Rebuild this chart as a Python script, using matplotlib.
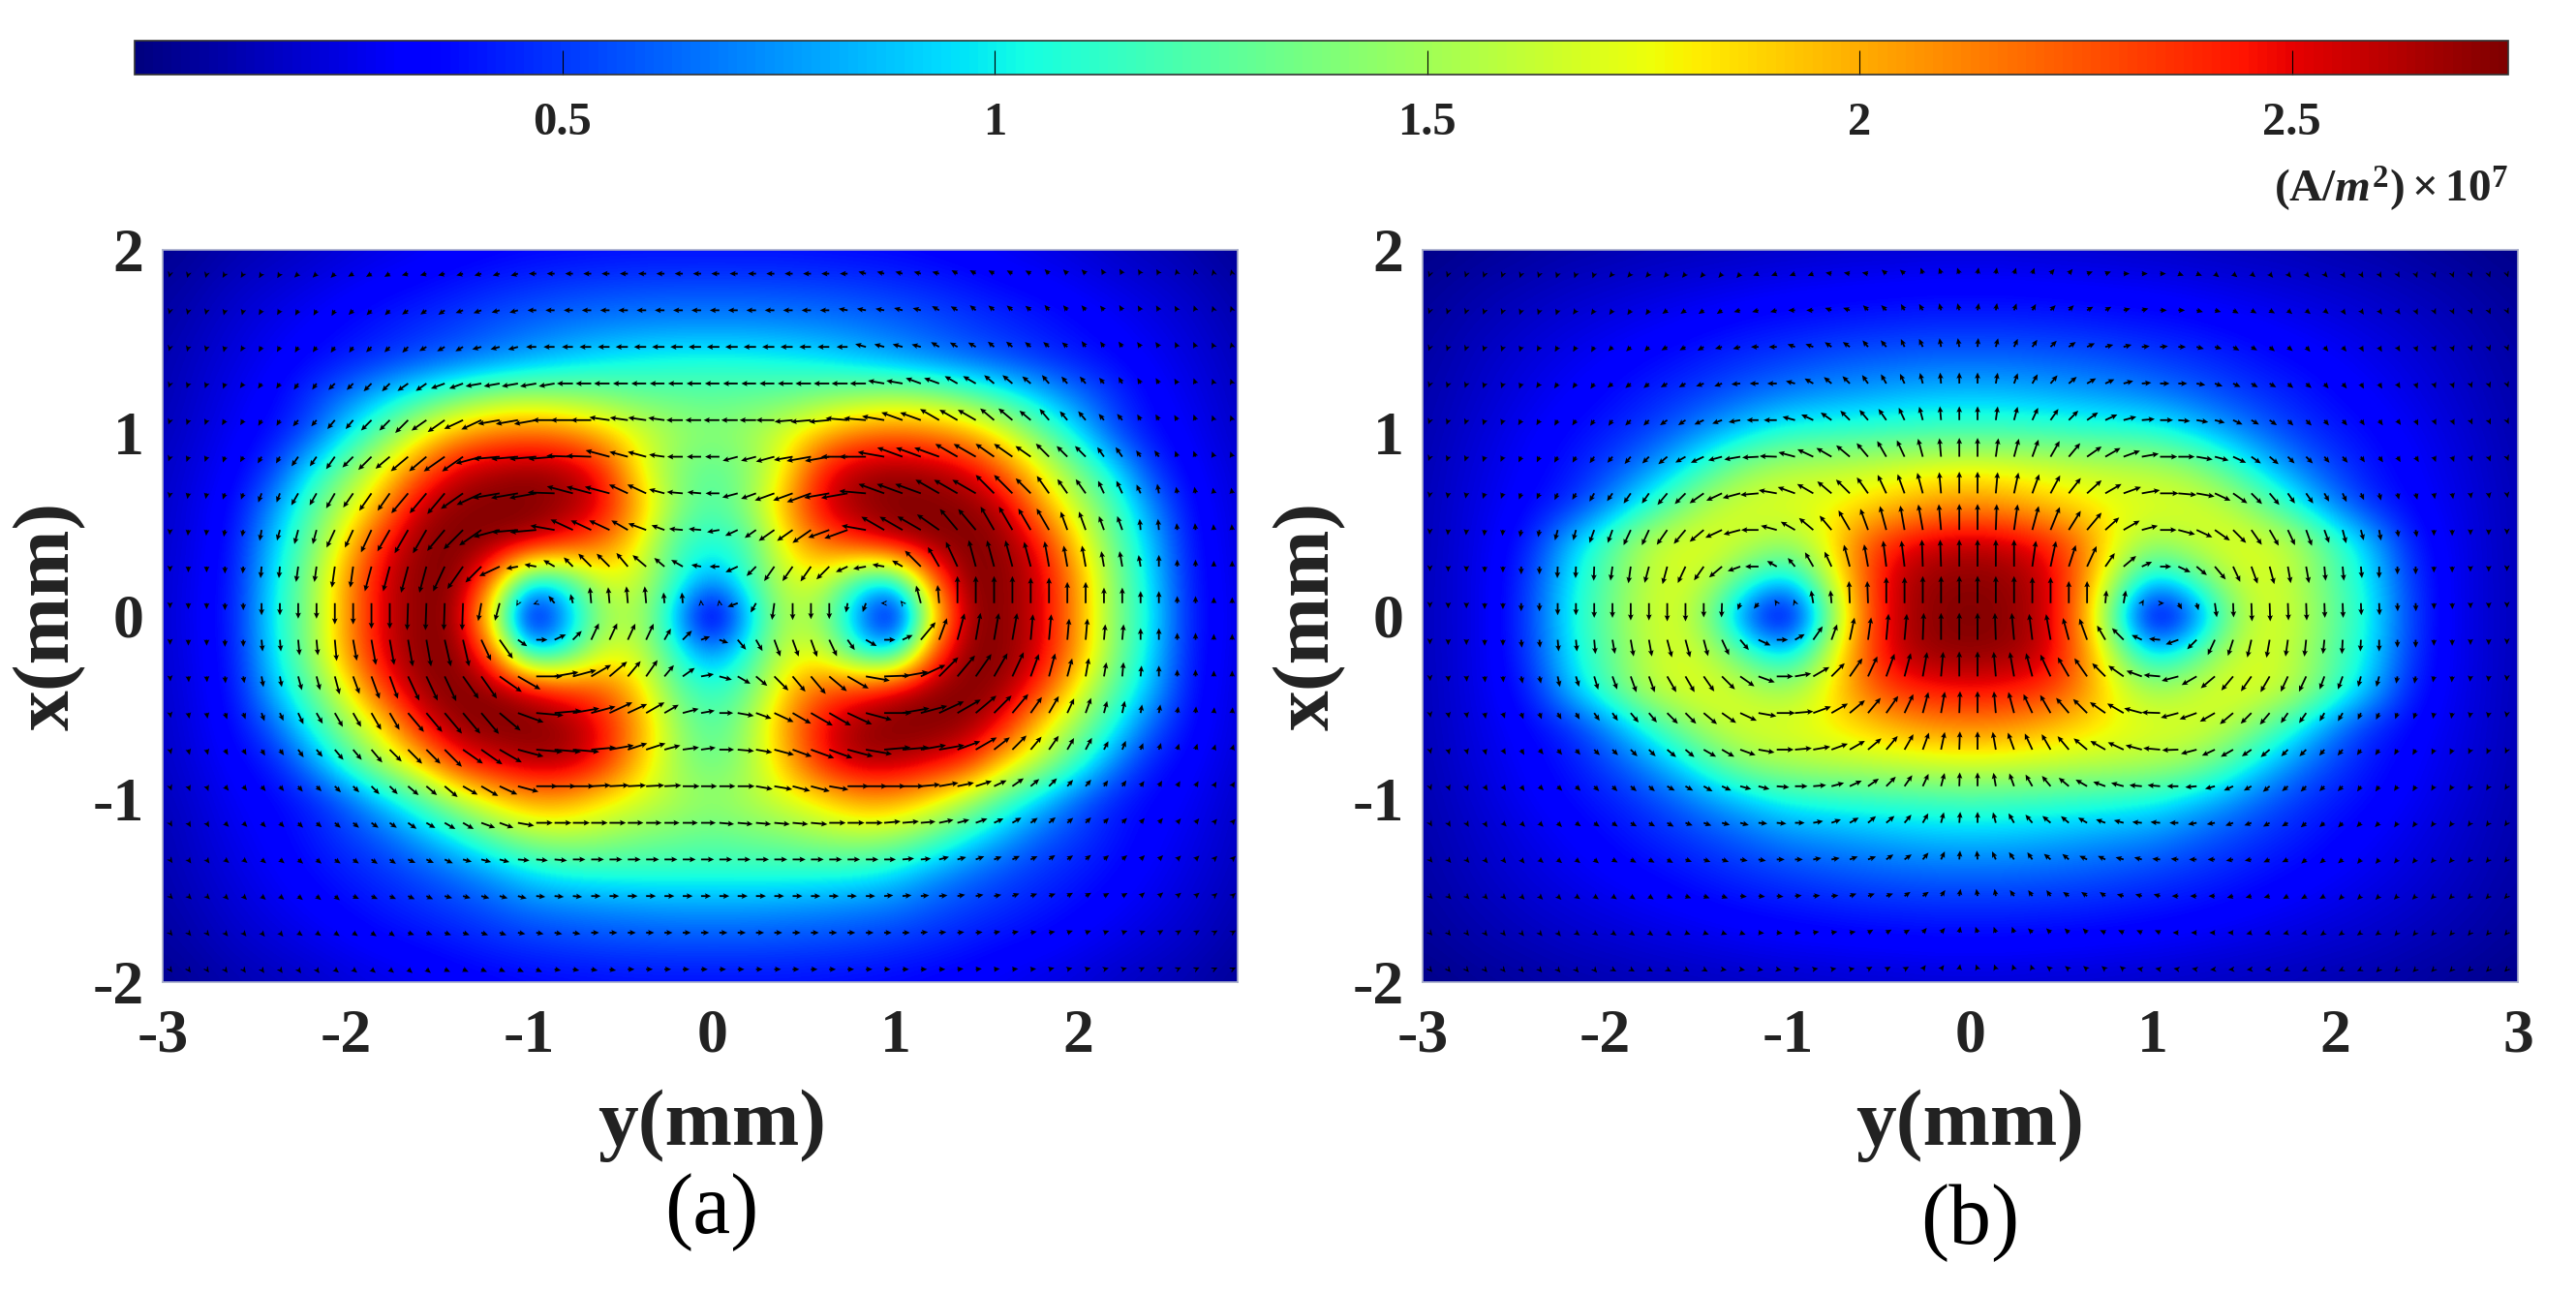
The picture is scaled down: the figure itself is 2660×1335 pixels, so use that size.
#!/usr/bin/env python3
"""Current density maps with arrows, panels (a) and (b)."""

import numpy as np
import matplotlib
matplotlib.use("Agg")
import matplotlib.pyplot as plt

plt.rcParams['font.family'] = ['Liberation Serif', 'DejaVu Serif']
plt.rcParams['axes.unicode_minus'] = False
plt.rcParams['mathtext.fontset'] = 'custom'
plt.rcParams['mathtext.rm'] = 'Liberation Serif:bold'
plt.rcParams['mathtext.it'] = 'Liberation Serif:italic:bold'
plt.rcParams['mathtext.bf'] = 'Liberation Serif:bold'

# === Data ===
cbar_ticks = [0.5, 1, 1.5, 2, 2.5]
cbar_labels = ['0.5', '1', '1.5', '2', '2.5']
x_ticks = [-2, -1, 0, 1, 2]
y_ticks_a = [-3, -2, -1, 0, 1, 2]
y_ticks_b = [-3, -2, -1, 0, 1, 2, 3]
vmin, vmax = 0.005, 2.75

# |J| in 1e5 A/m2, rows x = 2.0 ... -2.0, columns y = -3.0 ... 3.0, step 0.2 mm
heat_a = [
    [5,8,12,15,18,22,25,28,31,33,35,36,37,38,38,38,38,38,37,36,35,33,31,28,25,22,18,15,12,8,5],
    [8,12,17,21,25,29,33,36,40,44,47,50,52,53,54,54,54,53,52,50,47,44,40,36,33,29,25,21,17,12,8],
    [10,15,21,26,31,36,41,46,51,57,62,66,69,71,72,72,72,71,69,66,62,57,51,46,41,36,31,26,21,15,10],
    [12,18,24,30,36,42,48,55,62,70,79,88,96,101,104,105,104,101,96,88,79,70,62,55,48,42,36,30,24,18,12],
    [13,20,27,34,48,66,88,110,130,145,150,145,140,132,130,128,130,132,140,145,150,145,130,110,88,66,48,34,27,20,13],
    [15,22,30,38,55,95,130,170,200,215,220,215,195,170,150,142,150,170,195,215,220,215,200,170,130,95,55,38,30,22,15],
    [17,25,33,50,95,135,175,220,255,265,270,265,245,180,140,125,140,180,245,265,270,265,255,220,175,135,95,50,33,25,17],
    [18,27,37,72,120,160,205,260,272,275,275,270,255,200,145,120,145,200,255,270,275,275,272,260,205,160,120,72,37,27,18],
    [19,28,40,88,130,185,245,270,275,272,265,245,220,180,120,105,120,180,220,245,265,272,275,270,245,185,130,88,40,28,19],
    [20,29,42,95,140,205,255,272,275,220,100,110,170,165,115,75,115,165,170,110,100,220,275,272,255,205,140,95,42,29,20],
    [20,30,43,100,140,205,255,272,272,170,0,70,145,155,85,0,85,155,145,70,0,170,272,272,255,205,140,100,43,30,20],
    [20,29,42,95,140,205,255,272,275,225,90,105,170,165,110,70,110,165,170,105,90,225,275,272,255,205,140,95,42,29,20],
    [19,28,40,85,125,175,235,268,275,272,260,240,225,190,130,110,130,190,225,240,260,272,275,268,235,175,125,85,40,28,19],
    [18,27,37,60,103,145,185,245,270,275,275,270,250,205,150,120,150,205,250,270,275,275,270,245,185,145,103,60,37,27,18],
    [17,25,33,42,70,115,155,190,240,255,265,265,245,195,150,130,150,195,245,265,265,255,240,190,155,115,70,42,33,25,17],
    [15,22,30,35,43,60,90,120,155,185,205,205,185,170,155,145,155,170,185,205,205,185,155,120,90,60,43,35,30,22,15],
    [13,20,27,33,40,50,60,80,103,130,150,155,150,140,135,130,135,140,150,155,150,130,103,80,60,50,40,33,27,20,13],
    [12,18,24,30,36,42,48,55,65,78,95,105,108,110,110,110,110,110,108,105,95,78,65,55,48,42,36,30,24,18,12],
    [10,15,21,26,31,36,41,46,51,57,65,68,71,73,75,75,75,73,71,68,65,57,51,46,41,36,31,26,21,15,10],
    [8,12,17,21,25,29,33,36,40,44,47,50,52,53,54,54,54,53,52,50,47,44,40,36,33,29,25,21,17,12,8],
    [5,8,12,15,18,22,25,28,31,33,35,36,37,38,38,38,38,38,37,36,35,33,31,28,25,22,18,15,12,8,5],
]

heat_b = [
    [3,5,7,9,11,12,14,15,16,17,18,19,20,20,21,21,21,20,20,19,18,17,16,15,14,12,11,9,7,5,3],
    [6,9,12,14,17,19,21,23,25,27,29,30,31,32,33,33,33,32,31,30,29,27,25,23,21,19,17,14,12,9,6],
    [8,12,15,19,22,25,28,31,34,37,39,41,43,44,45,45,45,44,43,41,39,37,34,31,28,25,22,19,15,12,8],
    [10,14,19,23,27,31,35,39,44,48,52,56,59,61,63,63,63,61,59,56,52,48,44,39,35,31,27,23,19,14,10],
    [11,16,21,26,31,36,42,48,55,63,70,76,80,84,87,88,87,84,80,76,70,63,55,48,42,36,31,26,21,16,11],
    [12,18,24,30,36,42,50,63,80,97,110,113,115,118,120,120,120,118,115,113,110,97,80,63,50,42,36,30,24,18,12],
    [13,20,26,33,40,52,70,95,125,148,158,162,165,170,175,178,175,170,165,162,158,148,125,95,70,52,40,33,26,20,13],
    [14,21,28,36,46,70,103,135,160,170,172,175,185,195,205,210,205,195,185,175,172,170,160,135,103,70,46,36,28,21,14],
    [14,22,30,45,85,120,155,170,172,160,150,175,220,245,258,260,258,245,220,175,150,160,172,170,155,120,85,45,30,22,14],
    [15,22,31,52,95,125,155,170,155,115,90,150,220,260,270,272,270,260,220,150,90,115,155,170,155,125,95,52,31,22,15],
    [15,22,31,55,100,130,160,170,125,45,8,110,215,260,272,275,272,260,215,110,8,45,125,170,160,130,100,55,31,22,15],
    [15,22,31,52,95,125,155,170,155,115,90,150,220,260,270,272,270,260,220,150,90,115,155,170,155,125,95,52,31,22,15],
    [14,22,30,45,85,120,155,170,172,160,150,175,215,238,245,248,245,238,215,175,150,160,172,170,155,120,85,45,30,22,14],
    [14,21,28,36,46,70,103,135,160,170,172,178,188,200,210,212,210,200,188,178,172,170,160,135,103,70,46,36,28,21,14],
    [13,20,26,33,40,52,70,95,125,148,155,160,162,165,168,170,168,165,162,160,155,148,125,95,70,52,40,33,26,20,13],
    [12,18,24,30,36,42,50,62,78,92,105,110,113,116,118,120,118,116,113,110,105,92,78,62,50,42,36,30,24,18,12],
    [11,16,21,26,31,36,42,48,55,63,72,76,80,84,87,88,87,84,80,76,72,63,55,48,42,36,31,26,21,16,11],
    [10,14,19,23,27,31,35,39,44,48,52,56,59,61,63,63,63,61,59,56,52,48,44,39,35,31,27,23,19,14,10],
    [8,12,15,19,22,25,28,31,34,37,39,41,43,44,45,45,45,44,43,41,39,37,34,31,28,25,22,19,15,12,8],
    [6,9,12,14,17,19,21,23,25,27,29,30,31,32,33,33,33,32,31,30,29,27,25,23,21,19,17,14,12,9,6],
    [3,5,7,9,11,12,14,15,16,17,18,19,20,20,21,21,21,20,20,19,18,17,16,15,14,12,11,9,7,5,3],
]

# arrow directions in degrees, one list per arrow row, as (first column, angle) runs
angles_a = [
    [(0,255),(3,240),(7,225),(10,210),(13,195),(20,180),(38,165),(43,150),(48,135),(51,120),(55,105)],
    [(0,255),(5,240),(10,225),(13,215),(16,200),(18,195),(20,180),(37,170),(40,165),(42,150),(44,140),(48,130),(52,120),(56,110)],
    [(0,255),(4,240),(8,235),(11,225),(14,210),(17,195),(20,180),(38,165),(42,150),(45,140),(50,125),(55,115),(58,105)],
    [(0,250),(4,235),(9,225),(13,215),(15,200),(17,190),(22,180),(39,170),(41,160),(43,150),(45,140),(48,130),(52,120),(56,110)],
    [(0,250),(3,240),(7,230),(11,225),(14,215),(16,205),(18,190),(21,180),(24,172),(28,180),(34,185),(37,175),(39,170),(40,160),(42,150),(45,140),(48,130),(53,120),(56,110)],
    [(0,250),(4,240),(7,235),(10,225),(12,220),(15,215),(17,195),(18,185),(22,178),(24,165),(27,172),(28,180),(31,195),(34,190),(37,180),(39,170),(40,160),(43,150),(45,145),(48,135),(51,125),(55,110)],
    [(0,260),(3,250),(7,240),(10,235),(13,230),(16,215),(17,205),(18,190),(21,178),(22,165),(25,155),(27,165),(28,175),(30,180),(31,195),(32,200),(36,190),(38,175),(39,160),(42,150),(45,135),(48,125),(51,115),(54,100)],
    [(0,265),(3,260),(6,255),(9,245),(12,240),(15,230),(16,225),(17,215),(18,195),(19,185),(21,170),(22,155),(25,150),(26,160),(28,175),(30,190),(31,205),(32,215),(36,200),(38,170),(39,150),(42,145),(43,130),(45,120),(49,110),(53,95)],
    [(0,270),(4,265),(7,262),(11,255),(15,245),(16,235),(17,225),(18,205),(19,190),(20,170),(21,150),(22,135),(25,130),(26,140),(28,150),(29,170),(30,180),(31,205),(32,225),(33,235),(36,225),(37,205),(38,190),(39,170),(40,150),(41,135),(42,120),(43,115),(44,105),(48,100),(54,90)],
    [(0,270),(13,268),(17,260),(18,255),(19,240),(20,200),(21,130),(22,105),(23,95),(30,100),(31,200),(32,240),(33,262),(34,270),(37,260),(38,250),(39,180),(40,130),(41,105),(42,95),(43,90)],
    [(0,270),(5,275),(10,280),(15,283),(17,295),(18,305),(19,325),(20,0),(21,25),(22,45),(23,65),(27,60),(28,45),(29,20),(30,340),(31,310),(32,300),(33,290),(36,295),(37,305),(38,330),(39,0),(40,25),(41,50),(42,70),(43,75),(44,80),(47,85),(53,90)],
    [(0,275),(4,280),(7,285),(10,290),(13,295),(16,305),(18,325),(19,330),(20,0),(21,10),(22,15),(23,30),(24,40),(25,50),(26,55),(27,50),(28,35),(29,10),(30,345),(31,330),(32,320),(33,315),(34,310),(36,320),(37,330),(38,350),(39,2),(40,10),(41,25),(42,45),(43,50),(44,55),(45,60),(46,65),(47,70),(48,75),(50,80),(52,85),(54,90)],
    [(0,280),(3,290),(6,295),(8,300),(13,310),(18,320),(19,340),(20,355),(21,5),(22,10),(23,15),(24,25),(26,30),(28,15),(29,10),(30,0),(31,350),(32,340),(33,335),(34,330),(37,335),(38,345),(39,0),(40,10),(41,15),(42,25),(43,30),(44,40),(45,45),(46,50),(47,55),(48,60),(49,65),(50,70),(51,75),(52,78),(53,80),(56,85)],
    [(0,285),(3,300),(6,305),(8,310),(12,315),(16,325),(18,330),(19,345),(20,355),(23,5),(24,10),(25,18),(27,15),(28,8),(30,0),(31,355),(32,350),(33,345),(34,340),(37,345),(38,350),(39,5),(41,10),(43,20),(44,30),(45,38),(46,45),(47,50),(48,55),(49,60),(50,62),(52,68),(54,72)],
    [(0,290),(3,310),(8,315),(13,320),(16,330),(18,335),(19,345),(20,0),(23,3),(28,0),(32,350),(34,345),(36,350),(37,0),(41,5),(42,10),(43,12),(44,18),(45,25),(46,35),(47,40),(48,45),(49,48),(50,50),(51,55),(54,60)],
    [(0,300),(3,315),(8,320),(11,325),(14,330),(17,340),(19,350),(20,0),(30,355),(36,0),(39,5),(42,12),(43,15),(44,20),(45,25),(46,30),(47,35),(48,40),(50,45),(53,50)],
    [(0,305),(3,320),(9,325),(13,335),(16,345),(19,355),(22,0),(40,5),(42,15),(44,20),(46,25),(48,35),(50,40),(53,45)],
    [(0,315),(5,320),(10,335),(15,345),(20,355),(23,0),(39,5),(43,10),(46,20),(49,30),(53,40)],
    [(0,310),(7,325),(13,340),(19,350),(23,0),(41,5),(45,10),(49,20),(54,30)],
    [(0,305),(9,320),(15,335),(21,350),(25,0),(43,5),(48,15),(53,25)],
]

angles_b = [
    [(0,250),(10,230),(18,200),(22,170),(25,140),(27,110),(30,80),(32,70),(34,50),(36,20),(38,0),(41,340),(43,320),(46,310),(50,300),(54,290)],
    [(0,250),(8,235),(13,215),(17,195),(20,180),(22,160),(24,135),(26,120),(28,105),(30,80),(32,70),(33,60),(34,45),(36,30),(38,15),(40,0),(42,345),(44,330),(47,320),(50,305),(54,295)],
    [(0,250),(6,240),(10,225),(13,210),(16,195),(18,180),(20,160),(22,145),(24,130),(26,115),(28,100),(30,85),(31,75),(32,65),(33,55),(34,45),(35,35),(36,25),(37,15),(39,5),(41,0),(42,345),(44,330),(46,320),(48,310),(51,300),(54,290)],
    [(0,250),(6,235),(10,220),(13,210),(15,200),(17,185),(18,180),(20,165),(21,150),(22,140),(23,135),(24,125),(25,120),(26,115),(27,105),(28,95),(29,90),(31,80),(32,70),(33,60),(34,50),(35,40),(36,30),(37,25),(38,15),(39,5),(40,0),(42,350),(43,340),(44,335),(45,330),(47,320),(49,310),(51,300),(54,290)],
    [(0,250),(5,240),(8,235),(11,225),(13,215),(15,205),(16,200),(17,190),(18,180),(20,165),(21,155),(22,145),(23,135),(24,130),(25,125),(26,115),(27,105),(28,95),(29,90),(31,82),(32,75),(33,65),(34,55),(35,45),(36,35),(37,25),(38,15),(39,5),(40,0),(41,355),(42,350),(43,345),(44,335),(45,330),(46,325),(47,315),(49,310),(51,305),(54,295)],
    [(0,250),(4,245),(7,240),(9,235),(10,230),(12,225),(13,220),(14,210),(15,205),(16,195),(17,190),(18,183),(19,178),(20,165),(21,155),(22,150),(23,140),(24,130),(25,120),(26,115),(27,105),(28,95),(29,90),(31,82),(32,75),(33,70),(34,60),(35,50),(36,35),(37,30),(38,20),(39,10),(40,0),(42,350),(43,345),(44,335),(45,325),(46,320),(47,315),(49,310),(51,305),(53,300),(55,290)],
    [(0,260),(3,250),(6,245),(8,240),(10,235),(13,230),(14,225),(15,215),(16,205),(17,195),(18,185),(19,170),(20,160),(21,150),(22,140),(23,135),(24,125),(25,115),(26,110),(27,105),(28,95),(29,90),(31,85),(32,78),(33,70),(34,62),(35,52),(36,42),(37,30),(38,20),(39,10),(40,0),(41,355),(42,350),(43,335),(44,325),(45,315),(46,310),(47,305),(49,300),(50,295),(52,285),(55,280)],
    [(0,265),(5,260),(7,255),(9,250),(11,245),(13,235),(14,230),(15,220),(16,205),(17,195),(18,180),(19,165),(20,150),(21,140),(22,130),(23,120),(24,110),(25,105),(26,100),(28,95),(29,90),(31,88),(32,82),(33,75),(34,68),(35,58),(36,50),(37,42),(38,30),(39,15),(40,0),(41,345),(42,335),(43,325),(44,315),(45,305),(46,300),(47,295),(48,290),(50,285),(52,280),(55,270)],
    [(0,270),(7,268),(10,262),(12,255),(14,245),(15,235),(16,220),(17,200),(18,180),(19,150),(20,130),(21,120),(22,115),(23,105),(24,100),(25,97),(27,92),(29,90),(33,82),(34,78),(35,72),(36,65),(37,55),(38,40),(39,25),(40,0),(41,335),(42,320),(43,310),(44,295),(45,290),(46,285),(47,280),(49,275),(52,270)],
    [(0,270),(16,268),(17,250),(18,230),(19,120),(20,110),(21,100),(22,95),(23,92),(25,90),(37,85),(38,80),(39,60),(40,0),(41,300),(42,285),(43,278),(44,272)],
    [(0,270),(5,275),(10,280),(13,285),(16,295),(17,310),(18,335),(19,0),(20,30),(21,55),(22,70),(23,78),(24,82),(25,85),(27,88),(28,90),(31,92),(32,95),(33,97),(34,100),(35,105),(36,110),(37,120),(38,135),(39,155),(40,175),(41,200),(42,225),(43,245),(44,252),(45,257),(46,260),(47,262),(48,264),(50,267),(52,270)],
    [(0,275),(5,282),(8,287),(10,290),(13,300),(15,305),(16,315),(17,325),(18,340),(19,0),(20,10),(21,30),(22,45),(23,55),(24,65),(25,70),(26,75),(27,80),(28,85),(29,90),(31,95),(32,100),(33,105),(34,115),(35,120),(36,125),(37,135),(38,145),(39,160),(40,175),(41,195),(42,210),(43,220),(44,230),(45,235),(46,240),(47,245),(49,250),(51,255),(53,260),(56,265)],
    [(0,280),(4,290),(7,300),(9,305),(11,310),(13,315),(15,320),(16,325),(17,335),(18,350),(19,0),(20,5),(21,20),(22,30),(23,40),(24,50),(25,55),(26,65),(27,75),(28,80),(29,88),(30,90),(31,95),(32,105),(33,115),(34,120),(35,130),(36,135),(37,145),(38,150),(39,165),(40,178),(41,195),(42,200),(43,210),(44,220),(45,225),(46,230),(47,235),(49,240),(51,245),(53,250),(55,260)],
    [(0,285),(4,300),(6,310),(9,315),(13,320),(15,330),(17,340),(18,350),(19,0),(20,5),(21,10),(22,20),(23,30),(24,40),(25,50),(26,60),(27,70),(28,78),(29,88),(30,90),(31,100),(32,110),(33,115),(34,120),(35,130),(36,140),(37,150),(38,155),(39,165),(40,175),(41,182),(42,195),(43,205),(44,210),(45,215),(46,220),(47,225),(49,230),(51,235),(53,240),(55,245)],
    [(0,290),(3,305),(6,315),(11,320),(13,330),(16,335),(17,345),(19,355),(20,0),(21,5),(22,15),(23,25),(24,35),(25,45),(26,55),(27,65),(28,75),(29,88),(30,90),(31,100),(32,110),(33,120),(34,130),(35,140),(36,150),(37,160),(38,165),(39,175),(41,180),(42,185),(43,195),(44,205),(45,210),(46,220),(48,225),(51,235),(54,240)],
    [(0,300),(4,315),(8,325),(11,330),(14,340),(16,345),(18,355),(20,0),(21,10),(22,20),(23,30),(24,40),(26,50),(27,60),(28,75),(29,85),(30,90),(31,105),(32,120),(33,130),(34,140),(36,150),(37,160),(38,165),(39,175),(41,180),(42,190),(44,200),(46,210),(48,220),(50,225),(53,235)],
    [(0,310),(6,320),(10,330),(14,340),(17,350),(19,0),(21,10),(23,20),(25,35),(27,50),(28,65),(29,85),(30,95),(31,115),(32,125),(34,140),(36,155),(38,165),(40,175),(42,180),(44,190),(46,205),(48,220),(51,230)],
    [(0,315),(8,325),(13,340),(17,355),(20,5),(23,20),(26,35),(28,55),(29,80),(30,100),(32,125),(35,145),(38,165),(41,180),(44,195),(47,210),(50,225)],
    [(0,310),(8,325),(14,340),(18,355),(21,10),(24,30),(27,50),(29,80),(30,110),(33,135),(37,155),(41,180),(45,195),(49,215),(53,230)],
    [(0,310),(10,330),(16,350),(20,10),(24,30),(27,55),(29,80),(30,110),(34,140),(39,170),(43,185),(47,205),(52,225)],
]

W, H = 2660, 1335
TICK_FS, LABEL_FS, PANEL_FS, CBAR_FS = 46, 60, 63, 35


def px_axes(fig, left, top, right, bottom):
    """Axes placed by reference pixel edges."""
    return fig.add_axes([left / W, 1 - bottom / H, (right - left) / W, (bottom - top) / H])


def expand_angles(rows, n_cols):
    out = []
    for row in rows:
        starts = [r[0] for r in row] + [n_cols]
        out.append(np.repeat([r[1] for r in row], np.diff(starts)))
    return np.radians(np.array(out, dtype=float))


def draw_panel(fig, edges, heat, angles, y_end, n_cols, y_ticks):
    ax = px_axes(fig, *edges)
    heat = np.array(heat) / 100.0
    im = ax.imshow(heat, cmap='jet', vmin=vmin, vmax=vmax, aspect='auto',
                   extent=[-3.1, 3.1, -2.1, 2.1], origin='upper',
                   interpolation='bicubic', interpolation_stage='data')

    # arrow grid: 0.1 mm across, about 0.2 mm down, length in pixels follows |J|
    ang = expand_angles(angles, n_cols)
    col_y = -2.96 + 0.1 * np.arange(n_cols)
    row_x = 1.87 - 0.2 * np.arange(ang.shape[0])
    yy, xx = np.meshgrid(col_y, row_x)
    ir = np.clip(np.rint((2 - xx) / 0.2).astype(int), 0, 20)
    ic = np.clip(np.rint((yy + 3) / 0.2).astype(int), 0, 30)
    arrow_px = 3.5 + 9.0 * heat[ir, ic]
    ax.quiver(yy, xx, arrow_px * np.cos(ang), arrow_px * np.sin(ang), angles='uv', pivot='tail',
              units='dots', scale_units='dots', scale=1, width=1.8,
              headwidth=3.2, headlength=3.5, headaxislength=3, minshaft=0.5, minlength=0.5,
              color='black')

    ax.set_xlim(-3, y_end)
    ax.set_ylim(-2, 2)
    ax.set_xticks(y_ticks)
    ax.set_yticks(x_ticks)
    ax.tick_params(length=0, labelsize=TICK_FS)
    ax.tick_params(axis='x', pad=20)
    ax.tick_params(axis='y', pad=14)
    for lab in ax.get_xticklabels() + ax.get_yticklabels():
        lab.set_fontweight('bold')
        lab.set_color('#222222')
    for sp in ax.spines.values():
        sp.set_color('#a8aecb')
        sp.set_linewidth(1.2)
    return im


fig = plt.figure(figsize=(W / 100, H / 100), dpi=100, facecolor='white')

im = draw_panel(fig, (168, 258, 1278, 1014), heat_a, angles_a, 2.87, 59, y_ticks_a)
draw_panel(fig, (1469, 258, 2600, 1014), heat_b, angles_b, 3.0, 60, y_ticks_b)

# === Colorbar ===
cax = px_axes(fig, 139, 42, 2590, 77)
cbar = fig.colorbar(im, cax=cax, orientation='horizontal', ticks=cbar_ticks)
cbar.ax.set_xticklabels(cbar_labels, fontsize=CBAR_FS, fontweight='bold', color='#222222')
cbar.ax.tick_params(direction='in', length=18, width=0.8, color='black', pad=20)
cbar.ax.minorticks_off()
cbar.outline.set_linewidth(1.2)
cbar.outline.set_edgecolor('#333333')


def put(px, py, s, **kw):
    fig.text(px / W, 1 - py / H, s, ha=kw.pop('ha', 'center'), va='center', **kw)


put(2590, 195, r'$\mathrm{(A/}\mathit{m}^{\mathrm{2}}\mathrm{)}\times\mathrm{10}^{\mathrm{7}}$',
    ha='right', fontsize=34, color='#222222')

for px in (735, 2034):
    put(px, 1162, 'y(mm)', fontsize=LABEL_FS, fontweight='bold', color='#222222')
for px in (51, 1352):
    put(px, 636, 'x(mm)', fontsize=LABEL_FS, fontweight='bold', rotation=90, color='#222222')
put(735, 1252, '(a)', fontsize=PANEL_FS, color='black')
put(2034, 1263, '(b)', fontsize=PANEL_FS, color='black')

fig.savefig('out.png', dpi=100)
